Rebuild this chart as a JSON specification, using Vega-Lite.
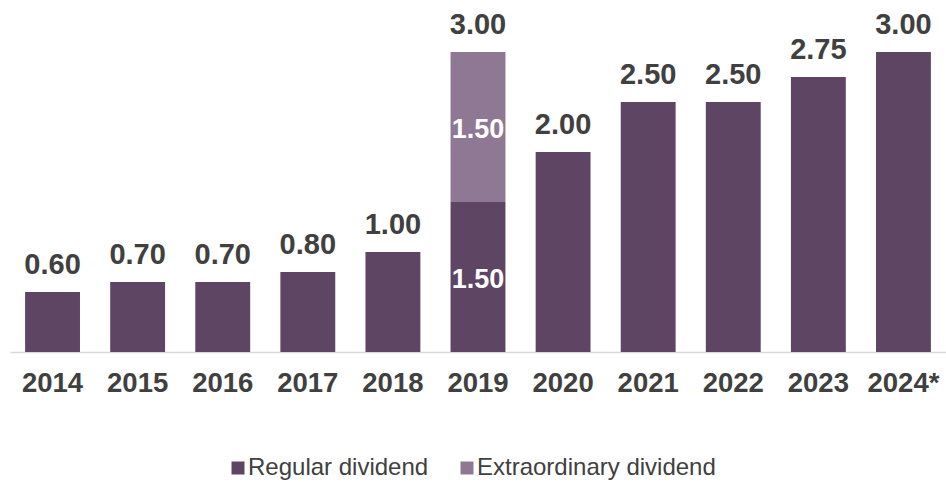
{
  "$schema": "https://vega.github.io/schema/vega-lite/v6.json",
  "autosize": "none",
  "width": 936,
  "height": 300,
  "padding": {"left": 10, "top": 52, "right": 0, "bottom": 130},
  "background": "white",
  "config": {
    "view": {"stroke": null},
    "font": "Liberation Sans",
    "text": {"font": "Liberation Sans"}
  },
  "data": {
    "values": [
      {"year": "2014", "type": "Regular dividend", "value": 0.6},
      {"year": "2015", "type": "Regular dividend", "value": 0.7},
      {"year": "2016", "type": "Regular dividend", "value": 0.7},
      {"year": "2017", "type": "Regular dividend", "value": 0.8},
      {"year": "2018", "type": "Regular dividend", "value": 1.0},
      {"year": "2019", "type": "Regular dividend", "value": 1.5},
      {"year": "2019", "type": "Extraordinary dividend", "value": 1.5},
      {"year": "2020", "type": "Regular dividend", "value": 2.0},
      {"year": "2021", "type": "Regular dividend", "value": 2.5},
      {"year": "2022", "type": "Regular dividend", "value": 2.5},
      {"year": "2023", "type": "Regular dividend", "value": 2.75},
      {"year": "2024*", "type": "Regular dividend", "value": 3.0}
    ]
  },
  "encoding": {
    "x": {
      "field": "year",
      "type": "nominal",
      "sort": null,
      "scale": {"paddingInner": 0.355, "paddingOuter": 0.1775},
      "axis": {
        "title": null,
        "labelAngle": 0,
        "labelFont": "Liberation Sans",
        "labelFontSize": 27.5,
        "labelFontWeight": "bold",
        "labelColor": "#404040",
        "labelPadding": 17,
        "ticks": false,
        "domainColor": "#d9d9d9",
        "domainWidth": 1.5,
        "grid": false
      }
    }
  },
  "layer": [
    {
      "mark": {"type": "bar"},
      "encoding": {
        "y": {
          "field": "value",
          "type": "quantitative",
          "stack": "zero",
          "scale": {"domain": [0, 3], "nice": false},
          "axis": null
        },
        "color": {
          "field": "type",
          "type": "nominal",
          "scale": {
            "domain": ["Regular dividend", "Extraordinary dividend"],
            "range": ["#5e4563", "#8e7893"]
          },
          "legend": {
            "title": null,
            "orient": "none",
            "direction": "horizontal",
            "legendX": 216,
            "legendY": 404,
            "symbolType": "square",
            "symbolSize": 169,
            "symbolStrokeWidth": 0,
            "symbolOpacity": 1,
            "labelFont": "Liberation Sans",
            "labelFontSize": 24,
            "labelColor": "#404040",
            "labelOffset": -2,
            "labelLimit": 400,
            "columnPadding": 26
          }
        },
        "order": {"field": "type", "sort": "descending"}
      }
    },
    {
      "transform": [
        {"aggregate": [{"op": "sum", "field": "value", "as": "total"}], "groupby": ["year"]}
      ],
      "mark": {
        "type": "text",
        "font": "Liberation Sans",
        "fontSize": 29,
        "fontWeight": "bold",
        "color": "#404040",
        "baseline": "alphabetic",
        "dy": -18
      },
      "encoding": {
        "y": {"field": "total", "type": "quantitative"},
        "text": {"field": "total", "type": "quantitative", "format": ".2f"}
      }
    },
    {
      "transform": [{"filter": "datum.year == '2019'"}],
      "mark": {
        "type": "text",
        "font": "Liberation Sans",
        "fontSize": 27,
        "fontWeight": "bold",
        "color": "white",
        "baseline": "middle",
        "dy": 78
      },
      "encoding": {
        "y": {"field": "value", "type": "quantitative", "stack": "zero"},
        "order": {"field": "type", "sort": "descending"},
        "detail": {"field": "type"},
        "text": {"field": "value", "type": "quantitative", "format": ".2f"}
      }
    }
  ]
}
